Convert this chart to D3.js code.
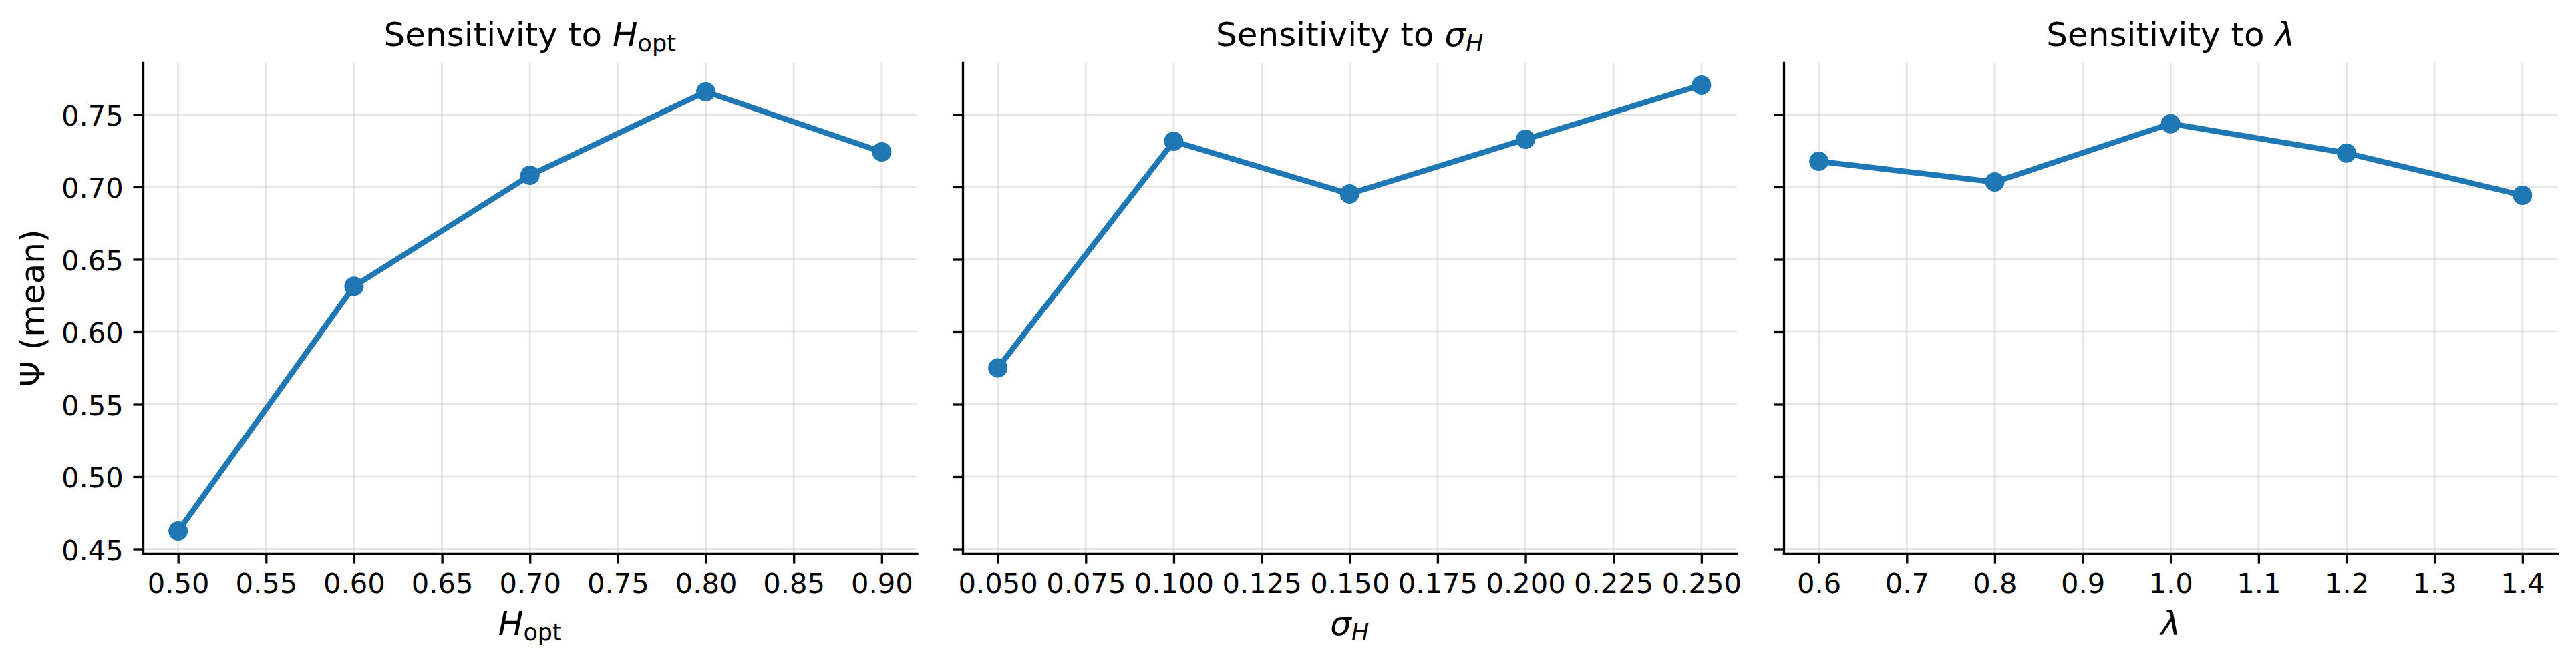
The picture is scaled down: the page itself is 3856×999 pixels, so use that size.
<!DOCTYPE html>
<html><head><meta charset="utf-8">
<script src="https://cdn.jsdelivr.net/npm/d3@7"></script>
<style>
html,body{margin:0;padding:0;background:#fff;}
svg{display:block;font-family:"DejaVu Sans",sans-serif;}
</style></head><body>
<svg id="chart" width="3856" height="999"></svg>
<script>
// ---- data ----
const hoptX = [0.5, 0.6, 0.7, 0.8, 0.9];
const hoptY = [0.4624, 0.6314, 0.7080, 0.7657, 0.7242];
const sigmaX = [0.05, 0.10, 0.15, 0.20, 0.25];
const sigmaY = [0.5751, 0.7315, 0.6952, 0.7329, 0.7703];
const lambdaX = [0.6, 0.8, 1.0, 1.2, 1.4];
const lambdaY = [0.7177, 0.7034, 0.7437, 0.7234, 0.6942];

const yTicks = [0.45, 0.50, 0.55, 0.60, 0.65, 0.70, 0.75];
const hoptTicks = [0.50, 0.55, 0.60, 0.65, 0.70, 0.75, 0.80, 0.85, 0.90];
const sigmaTicks = [0.050, 0.075, 0.100, 0.125, 0.150, 0.175, 0.200, 0.225, 0.250];
const lambdaTicks = [0.6, 0.7, 0.8, 0.9, 1.0, 1.1, 1.2, 1.3, 1.4];

const yLabel = "Ψ (mean)";
const titlePrefix = "Sensitivity to ";

// ---- layout ----
const W = 3856, H = 999;
const plotTop = 94, plotBottom = 829;
const lefts = [214, 1441, 2670];
const pw = 1158.5;
const color = "#1f77b4";
const PT = 300 / 72;

const panels = [
  { xs: hoptX, ys: hoptY, ticks: hoptTicks, fmt: ".2f", sym: { main: "H", sub: "opt", subItalic: false } },
  { xs: sigmaX, ys: sigmaY, ticks: sigmaTicks, fmt: ".3f", sym: { main: "σ", sub: "H", subItalic: true } },
  { xs: lambdaX, ys: lambdaY, ticks: lambdaTicks, fmt: ".1f", sym: { main: "λ", sub: null } }
];

function padded(arr) {
  const e = d3.extent(arr);
  const p = 0.05 * (e[1] - e[0]);
  return [e[0] - p, e[1] + p];
}

const svg = d3.select("#chart");
svg.append("rect").attr("width", W).attr("height", H).attr("fill", "#fff");

const y = d3.scaleLinear()
  .domain(padded([].concat(hoptY, sigmaY, lambdaY)))
  .range([plotBottom, plotTop]);

function mathLabel(sel, sym, size) {
  sel.append("tspan").attr("font-style", "italic").text(sym.main);
  if (sym.sub) {
    sel.append("tspan")
      .attr("font-style", sym.subItalic ? "italic" : "normal")
      .attr("font-size", size * 0.7)
      .attr("dy", size * 0.16)
      .text(sym.sub);
  }
}

panels.forEach((p, i) => {
  const L = lefts[i];
  const x = d3.scaleLinear().domain(padded(p.xs)).range([L, L + pw]);
  const g = svg.append("g");

  // grid
  const grid = g.append("g");
  grid.selectAll("line.v").data(p.ticks).join("line").attr("class", "v")
    .attr("x1", d => x(d)).attr("x2", d => x(d))
    .attr("y1", plotTop).attr("y2", plotBottom)
    .attr("stroke", "#b0b0b0").attr("stroke-opacity", 0.3).attr("stroke-width", 3);
  grid.selectAll("line.h").data(yTicks).join("line").attr("class", "h")
    .attr("x1", L).attr("x2", L + pw)
    .attr("y1", d => y(d)).attr("y2", d => y(d))
    .attr("stroke", "#b0b0b0").attr("stroke-opacity", 0.3).attr("stroke-width", 3);

  // line + markers
  const pts = p.xs.map((v, k) => [v, p.ys[k]]);
  g.append("path").datum(pts)
    .attr("d", d3.line().x(d => x(d[0])).y(d => y(d[1])))
    .attr("fill", "none").attr("stroke", color)
    .attr("stroke-width", 2 * PT).attr("stroke-linejoin", "round");
  g.selectAll("circle").data(pts).join("circle")
    .attr("cx", d => x(d[0])).attr("cy", d => y(d[1]))
    .attr("r", 14.5).attr("fill", color);

  // axes
  const xAxis = d3.axisBottom(x).tickValues(p.ticks).tickFormat(d3.format(p.fmt))
    .tickSize(3.5 * PT).tickPadding(3.5 * PT).tickSizeOuter(0);
  const gx = g.append("g").attr("transform", `translate(0,${plotBottom})`).call(xAxis);
  const yAxis = d3.axisLeft(y).tickValues(yTicks)
    .tickFormat(i === 0 ? d3.format(".2f") : () => "")
    .tickSize(3.5 * PT).tickPadding(3.5 * PT).tickSizeOuter(0);
  const gy = g.append("g").attr("transform", `translate(${L},0)`).call(yAxis);

  [gx, gy].forEach(a => {
    a.selectAll(".domain").attr("stroke", "#000").attr("stroke-width", 0.8 * PT)
      .attr("stroke-linecap", "square");
    a.selectAll(".tick line").attr("stroke", "#000").attr("stroke-width", 0.8 * PT);
    a.selectAll(".tick text").attr("fill", "#000")
      .attr("font-size", 10 * PT).attr("font-family", "DejaVu Sans");
  });
  gy.selectAll(".tick text").attr("dy", "0.38em");

  // title
  const t = g.append("text")
    .attr("x", L + pw / 2).attr("y", 69)
    .attr("text-anchor", "middle").attr("font-size", 12 * PT).attr("fill", "#000");
  t.append("tspan").text(titlePrefix);
  mathLabel(t, p.sym, 12 * PT);

  // x label
  const xl = g.append("text")
    .attr("x", L + pw / 2).attr("y", 951)
    .attr("text-anchor", "middle").attr("font-size", 12 * PT).attr("fill", "#000");
  mathLabel(xl, p.sym, 12 * PT);
});

svg.append("text")
  .attr("transform", `translate(66,${(plotTop + plotBottom) / 2}) rotate(-90)`)
  .attr("text-anchor", "middle").attr("font-size", 12 * PT).attr("fill", "#000")
  .text(yLabel);
</script>
</body></html>
